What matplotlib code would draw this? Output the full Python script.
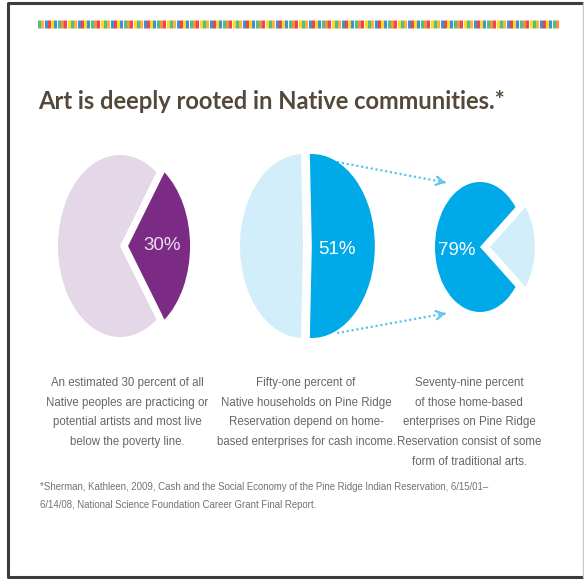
import matplotlib.pyplot as plt
import numpy as np

W, H = 584, 580

title = 'Art is deeply rooted in Native communities.*'
shares = [30, 51, 79]
pct_labels = ['30%', '51%', '79%']
captions = [
    'An estimated 30 percent of all\nNative peoples are practicing or\npotential artists and most live\nbelow the poverty line.',
    'Fifty-one percent of\nNative households on Pine Ridge\nReservation depend on home-\nbased enterprises for cash income.',
    'Seventy-nine percent\nof those home-based\nenterprises on Pine Ridge\nReservation consist of some\nform of traditional arts.',
]
footnote = ('*Sherman, Kathleen, 2009, Cash and the Social Economy of the Pine Ridge Indian Reservation, 6/15/01\u2013\n'
            '6/14/08, National Science Foundation Career Grant Final Report.')

purple, lavender = '#7b2b83', '#e3d7e8'
blue, pale_blue = '#00a9e8', '#d2eefa'
narrow = ['Liberation Sans', 'DejaVu Sans']

fig = plt.figure(figsize=(W / 100, H / 100), dpi=100)
bg = fig.add_axes([0, 0, 1, 1])
bg.set_xlim(0, W)
bg.set_ylim(H, 0)
bg.axis('off')

# frame
bg.plot([583, 8, 8, 583], [3, 3, 577, 577], color='#3c3c3c', lw=2.2, solid_capstyle='butt')
bg.plot([583, 583], [3, 577], color='#c8c8c8', lw=1)

# rainbow dotted rule
rainbow = ['#34b36b', '#f8a51b', '#1f7fc4', '#e8262b', '#ffd200', '#1f7fc4', '#34b36b', '#f47a20', '#e8262b', '#ffd200']
xs = np.arange(39, 560, 3.3)
bg.scatter(xs, np.full(len(xs), 24), marker='|', s=34, linewidths=2.2, alpha=0.85,
           c=[rainbow[i % len(rainbow)] for i in range(len(xs))])

bg.text(38, 109, title, fontsize=17.1, fontweight='bold', color='#53483a',
        family=['Lato', 'DejaVu Sans'], va='baseline', ha='left')


def pie_axes(cx, cy, rx, ry, pad=1.5):
    ax = fig.add_axes([(cx - pad * rx) / W, 1 - (cy + pad * ry) / H,
                       2 * pad * rx / W, 2 * pad * ry / H])
    ax.patch.set_alpha(0)
    return ax


def finish(ax):
    ax.set_aspect('auto')
    ax.set_xlim(-1.5, 1.5)
    ax.set_ylim(-1.5, 1.5)


# pie 1
ax1 = pie_axes(120, 246, 62, 91)
ax1.pie([shares[0], 100 - shares[0]], colors=[purple, lavender], startangle=-shares[0] * 1.8,
        explode=[0.13, 0], wedgeprops=dict(linewidth=0))
finish(ax1)
ax1.text(0.68, 0, pct_labels[0], color='#eadff0', fontsize=13.5, ha='center', va='center', family=narrow)

# pie 2
ax2 = pie_axes(303, 246, 63, 92)
ax2.pie([shares[1], 100 - shares[1]], colors=[blue, pale_blue], startangle=-shares[1] * 1.8,
        explode=[0.14, 0], wedgeprops=dict(linewidth=0))
finish(ax2)
ax2.text(0.54, -0.04, pct_labels[1], color='white', fontsize=13.5, ha='center', va='center', family=narrow)

# pie 3
ax3 = pie_axes(480, 247, 45, 65)
ax3.pie([shares[2], 100 - shares[2]], colors=[blue, pale_blue], startangle=180 - shares[2] * 1.8,
        explode=[0, 0.22], wedgeprops=dict(linewidth=0))
finish(ax3)
ax3.text(-0.52, -0.05, pct_labels[2], color='white', fontsize=13.5, ha='center', va='center', family=narrow)

# dotted connector arrows
arrow_col = '#5cc4ef'
for (x0, y0), (x1, y1) in [((337, 162), (448, 183)), ((337, 333), (448, 313))]:
    slope = (y1 - y0) / (x1 - x0)
    bg.plot([x0, x1 - 3], [y0, y1 - 3 * slope], color=arrow_col, lw=1.6, linestyle=(0, (1, 1.2)))
    bg.annotate('', xy=(x1, y1), xytext=(x1 - 6, y1 - 6 * slope),
                arrowprops=dict(arrowstyle='->,head_length=0.5,head_width=0.3', color=arrow_col, lw=1.6))

# captions
for cx, txt in zip([127, 306, 469], captions):
    bg.text(cx, 377, txt, ha='center', va='top', fontsize=8.3, color='#6b655f',
            family=narrow, linespacing=1.85)

bg.text(40, 482, footnote, ha='left', va='top', fontsize=6.95, color='#77716b',
        family=narrow, linespacing=2.0)

fig.savefig('out.png', dpi=100)
